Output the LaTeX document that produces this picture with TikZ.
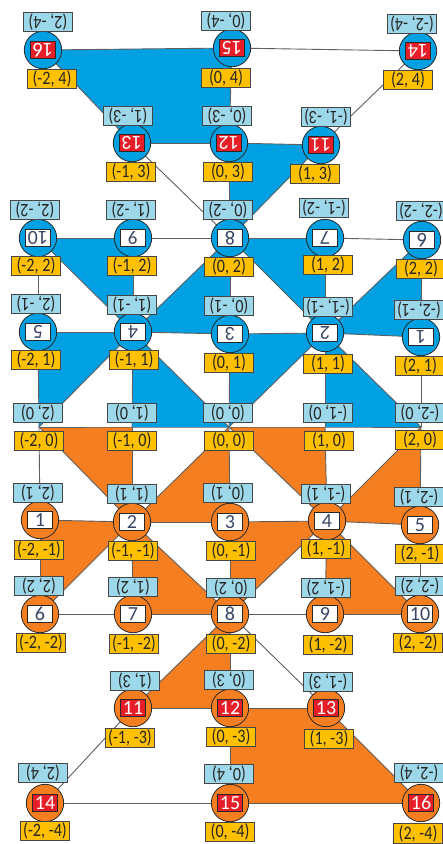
\documentclass[tikz,border=0pt]{standalone}
\usepackage{fontspec}
\setmainfont{Carlito}
\newfontfamily\labff[FakeStretch=0.85]{Carlito}
\newfontfamily\numff{Carlito}
\newcommand{\labfont}{\labff\fontsize{19}{20}\selectfont}
\newcommand{\numfont}{\numff\fontsize{20}{21}\selectfont}
\definecolor{orangec}{RGB}{245,126,32}
\definecolor{bluec}{RGB}{0,160,226}
\definecolor{yellowc}{RGB}{255,192,0}
\definecolor{lbluec}{RGB}{157,215,234}
\definecolor{redc}{RGB}{230,30,40}
\definecolor{edgec}{RGB}{40,40,40}
\definecolor{labedge}{RGB}{70,70,70}
\definecolor{labtext}{RGB}{38,38,38}
\definecolor{numtext}{RGB}{55,70,100}
\definecolor{linec}{RGB}{95,95,95}
\tikzset{
  circO/.style={circle, draw=edgec, line width=0.8pt, fill=orangec, minimum size=37.4pt, inner sep=0pt},
  circB/.style={circO, fill=bluec},
  numW/.style={draw=edgec, fill=white, line width=0.6pt, minimum width=25pt, minimum height=16.5pt, inner sep=0pt, font=\numfont, text=numtext},
  numR/.style={numW, fill=redc, text=white},
  ylab/.style={draw=labedge, fill=yellowc, line width=0.7pt, minimum width=49pt, minimum height=19.5pt, inner sep=0pt, font=\labfont, text=labtext},
  blab/.style={ylab, fill=lbluec, rotate=180},
  conn/.style={draw=linec, line width=0.9pt},
}
\begin{document}
\begin{tikzpicture}[x=1pt,y=-1pt]
\useasboundingbox (0,0) rectangle (443,844);
% centre points
\coordinate (p0) at (39,427); \coordinate (p1) at (132,427); \coordinate (p2) at (229,427);
\coordinate (p3) at (325,427); \coordinate (p4) at (421,427);
\coordinate (t1) at (421,337); \coordinate (t2) at (325,333); \coordinate (t3) at (230,334);
\coordinate (t4) at (133,332); \coordinate (t5) at (38,332);
\coordinate (t6) at (422,240); \coordinate (t7) at (325,238); \coordinate (t8) at (230,238);
\coordinate (t9) at (133,238); \coordinate (t10) at (38,238);
\coordinate (t11) at (321,145); \coordinate (t12) at (229,143); \coordinate (t13) at (132,143);
\coordinate (t14) at (418,51); \coordinate (t15) at (232,48); \coordinate (t16) at (43,50);
\coordinate (b1) at (40,520); \coordinate (b2) at (132,522); \coordinate (b3) at (230,522);
\coordinate (b4) at (327,521); \coordinate (b5) at (420,525);
\coordinate (b6) at (40,614); \coordinate (b7) at (133,614); \coordinate (b8) at (230,614);
\coordinate (b9) at (325,614); \coordinate (b10) at (420,614);
\coordinate (b11) at (133,708); \coordinate (b12) at (230,708); \coordinate (b13) at (326,708);
\coordinate (b14) at (45,803); \coordinate (b15) at (230,803); \coordinate (b16) at (421,803);
% fills bottom
\foreach \a/\b/\c in {p0/p1/b2, p2/b2/b3, p2/p3/b4, p4/b4/b5, b1/b2/b6, b2/b7/b8, b3/b4/b8, b4/b9/b10, b8/b11/b12}
  \fill[orangec] (\a) -- (\b) -- (\c) -- cycle;
\fill[orangec] (b12) -- (b13) -- (b16) -- (b15) -- cycle;
% fills top
\foreach \a/\b/\c in {p4/p3/t2, p2/t2/t3, p2/p1/t4, p0/t4/t5, t1/t2/t6, t2/t7/t8, t3/t4/t8, t4/t9/t10, t8/t11/t12}
  \fill[bluec] (\a) -- (\b) -- (\c) -- cycle;
\fill[bluec] (t12) -- (t13) -- (t16) -- (t15) -- cycle;
% connectors
\draw[conn] (p0) -- (p1) -- (p2) -- (p3) -- (p4);
\foreach \a/\b in {p0/b1, p1/b2, p2/b3, p3/b4, p4/b5, b1/b6, b2/b7, b3/b8, b4/b9, b5/b10, b8/b12, b12/b15,
  b1/b2, b2/b3, b3/b4, b4/b5, b6/b7, b7/b8, b8/b9, b9/b10, b11/b12, b12/b13, b14/b15, b15/b16,
  p0/b2, p2/b2, p2/b4, p4/b4, b2/b6, b2/b8, b4/b8, b4/b10, b8/b11, b8/b13, b11/b14, b13/b16,
  p4/t1, p3/t2, p2/t3, p1/t4, p0/t5, t1/t6, t2/t7, t3/t8, t4/t9, t5/t10, t8/t12, t12/t15,
  t1/t2, t2/t3, t3/t4, t4/t5, t6/t7, t7/t8, t8/t9, t9/t10, t11/t12, t12/t13, t14/t15, t15/t16,
  p4/t2, p2/t2, p2/t4, p0/t4, t2/t6, t2/t8, t4/t8, t4/t10, t8/t11, t8/t13, t11/t14, t13/t16}
  \draw[conn] (\a) -- (\b);
% circles
\foreach \n in {1,...,16} {
  \node[circO] (cb\n) at (b\n) {};
  \node[circB] (ct\n) at (t\n) {};
}
\foreach \n in {1,...,10} {
  \node[numW] (nb\n) at (b\n) {\n};
  \node[numW, rotate=180] (nt\n) at (t\n) {\n};
}
\foreach \n in {11,...,16} {
  \node[numR] (nb\n) at (b\n) {\n};
  \node[numR, rotate=180] (nt\n) at (t\n) {\n};
}
% light blue labels (upside down)
\foreach \x/\y/\t [count=\i] in {
  48/22/{(2, -4)}, 226/21/{(0, -4)}, 412/24/{(-2, -4)},
  128/116/{(1, -3)}, 227/116/{(0, -3)}, 326/117/{(-1, -3)},
  35/210/{(2, -2)}, 131/210/{(1, -2)}, 228/210/{(0, -2)}, 324/208/{(-1, -2)}, 421/211/{(-2, -2)},
  36/304/{(2, -1)}, 132/305/{(1, -1)}, 229/306/{(0, -1)}, 328/307/{(-1, -1)}, 419/310/{(-2, -1)},
  38/413/{(2, 0)}, 132/413/{(1, 0)}, 228/413/{(0, 0)}, 328/413/{(-1, 0)}, 420/413/{(-2, 0)},
  38/493/{(2, 1)}, 132/494/{(1, 1)}, 228/493/{(0, 1)}, 326/494/{(-1, 1)}, 419/497/{(-2, 1)},
  39/586/{(2, 2)}, 133/587/{(1, 2)}, 231/588/{(0, 2)}, 326/588/{(-1, 2)}, 420/586/{(-2, 2)},
  135/681/{(1, 3)}, 229/680/{(0, 3)}, 328/682/{(-1, 3)},
  43/773/{(2, 4)}, 229/774/{(0, 4)}, 419/773/{(-2, 4)}}
  \node[blab] (bl\i) at (\x,\y) {\t};
% yellow labels
\foreach \x/\y/\t [count=\i] in {
  52/79/{(-2, 4)}, 226/78/{(0, 4)}, 408/80/{(2, 4)},
  131/172/{(-1, 3)}, 228/172/{(0, 3)}, 315/174/{(1, 3)},
  36/266/{(-2, 2)}, 132/266/{(-1, 2)}, 229/267/{(0, 2)}, 328/265/{(1, 2)}, 421/269/{(2, 2)},
  36/360/{(-2, 1)}, 134/360/{(-1, 1)}, 229/363/{(0, 1)}, 328/364/{(1, 1)}, 420/366/{(2, 1)},
  39/441/{(-2, 0)}, 132/441/{(-1, 0)}, 229/441/{(0, 0)}, 329/441/{(1, 0)}, 420/440/{(2, 0)},
  39/550/{(-2, -1)}, 133/551/{(-1, -1)}, 231/551/{(0, -1)}, 326/549/{(1, -1)}, 420/554/{(2, -1)},
  41/643/{(-2, -2)}, 134/644/{(-1, -2)}, 231/644/{(0, -2)}, 328/645/{(1, -2)}, 418/643/{(2, -2)},
  130/738/{(-1, -3)}, 231/737/{(0, -3)}, 329/739/{(1, -3)},
  45/831/{(-2, -4)}, 230/832/{(0, -4)}, 418/833.5/{(2, -4)}}
  \node[ylab] (yl\i) at (\x,\y) {\t};
\end{tikzpicture}
\end{document}
